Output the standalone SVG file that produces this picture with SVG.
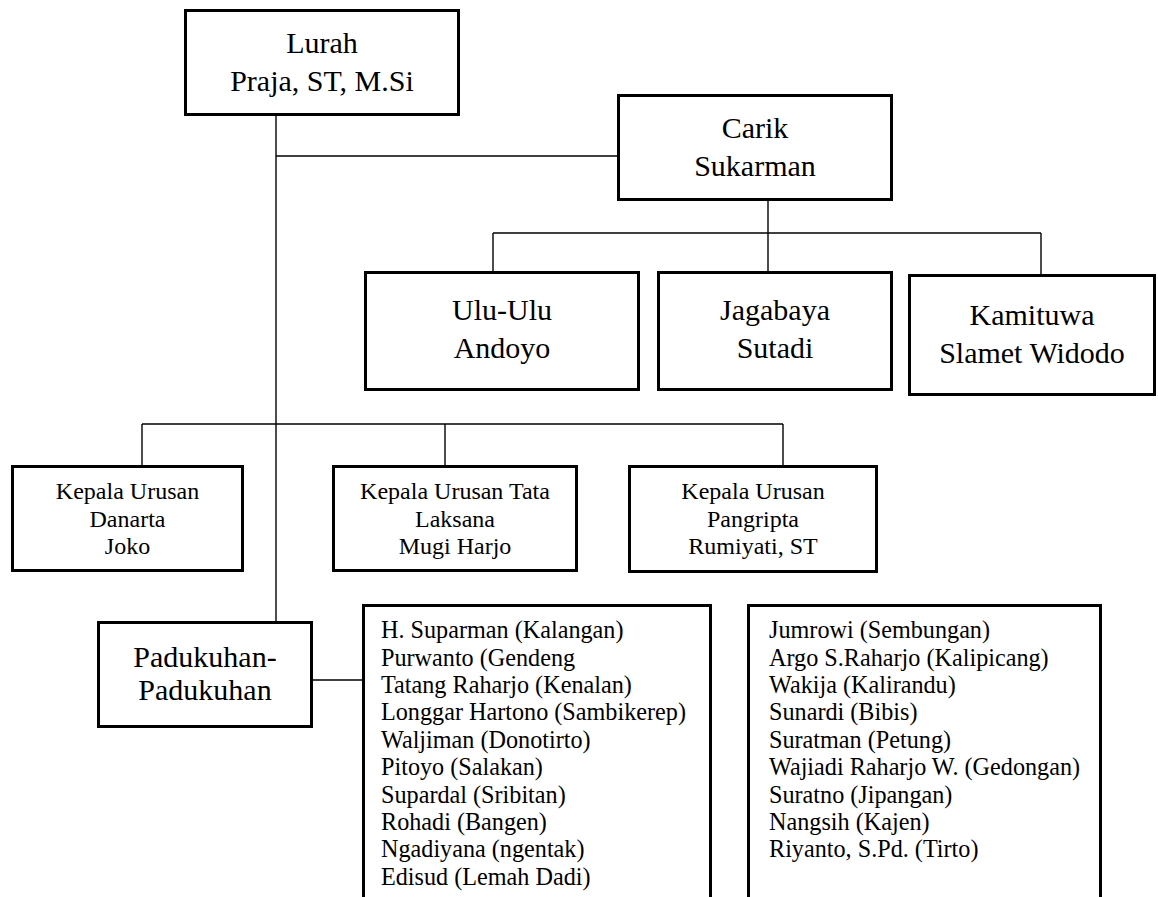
<svg xmlns="http://www.w3.org/2000/svg" width="1158" height="897" viewBox="0 0 1158 897">
<style>
.box{fill:#fff;stroke:#000;stroke-width:3}
.ln{fill:none;stroke:#000;stroke-width:1.4}
.big{font-size:30px;text-anchor:middle}
.mid{font-size:24px;text-anchor:middle}
.lst{font-size:24.2px}
</style>
<rect width="1158" height="897" fill="#fff"/>
<g id="connectors">
<path class="ln" d="M276 116V621"/>
<path class="ln" d="M276 156H617"/>
<path class="ln" d="M768 201V233"/>
<path class="ln" d="M493 233H1041"/>
<path class="ln" d="M493 233V271"/>
<path class="ln" d="M768 233V271"/>
<path class="ln" d="M1041 233V274"/>
<path class="ln" d="M142 424H783"/>
<path class="ln" d="M142 424V465"/>
<path class="ln" d="M445 424V465"/>
<path class="ln" d="M783 424V465"/>
<path class="ln" d="M313 680H362"/>
</g>
<g font-family="'Liberation Serif', 'Times New Roman', 'DejaVu Serif', serif" fill="#000">
<g id="lurah">
<rect class="box" x="185.5" y="10.5" width="273" height="104"/>
<text class="big" x="322" y="53">Lurah</text>
<text class="big" x="322" y="91">Praja, ST, M.Si</text>
</g>
<g id="carik">
<rect class="box" x="618.5" y="95.5" width="273" height="104"/>
<text class="big" x="755" y="138">Carik</text>
<text class="big" x="755" y="176">Sukarman</text>
</g>
<g id="uluulu">
<rect class="box" x="365.5" y="272.5" width="273" height="117"/>
<text class="big" x="502" y="320">Ulu-Ulu</text>
<text class="big" x="502" y="358">Andoyo</text>
</g>
<g id="jagabaya">
<rect class="box" x="658.5" y="272.5" width="233" height="117"/>
<text class="big" x="775" y="320">Jagabaya</text>
<text class="big" x="775" y="358">Sutadi</text>
</g>
<g id="kamituwa">
<rect class="box" x="909.5" y="275.5" width="245" height="119"/>
<text class="big" x="1032" y="325">Kamituwa</text>
<text class="big" x="1032" y="363">Slamet Widodo</text>
</g>
<g id="kaur-danarta">
<rect class="box" x="12.5" y="466.5" width="230" height="104"/>
<text class="mid" x="127.5" y="499">Kepala Urusan</text>
<text class="mid" x="127.5" y="527">Danarta</text>
<text class="mid" x="127.5" y="554">Joko</text>
</g>
<g id="kaur-tatalaksana">
<rect class="box" x="333.5" y="466.5" width="243" height="104"/>
<text class="mid" x="455" y="499">Kepala Urusan Tata</text>
<text class="mid" x="455" y="527">Laksana</text>
<text class="mid" x="455" y="554">Mugi Harjo</text>
</g>
<g id="kaur-pangripta">
<rect class="box" x="629.5" y="466.5" width="247" height="105"/>
<text class="mid" x="753" y="499">Kepala Urusan</text>
<text class="mid" x="753" y="527">Pangripta</text>
<text class="mid" x="753" y="554">Rumiyati, ST</text>
</g>
<g id="padukuhan">
<rect class="box" x="98.5" y="622.5" width="213" height="104"/>
<text class="big" x="205" y="667">Padukuhan-</text>
<text class="big" x="205" y="700">Padukuhan</text>
</g>
<g id="list1">
<rect class="box" x="363.5" y="605.5" width="347" height="320"/>
<text class="lst" x="381" y="638">H. Suparman (Kalangan)</text>
<text class="lst" x="381" y="665.5">Purwanto (Gendeng</text>
<text class="lst" x="381" y="693">Tatang Raharjo (Kenalan)</text>
<text class="lst" x="381" y="720.4">Longgar Hartono (Sambikerep)</text>
<text class="lst" x="381" y="747.8">Waljiman (Donotirto)</text>
<text class="lst" x="381" y="775.2">Pitoyo (Salakan)</text>
<text class="lst" x="381" y="802.6">Supardal (Sribitan)</text>
<text class="lst" x="381" y="830">Rohadi (Bangen)</text>
<text class="lst" x="381" y="857.4">Ngadiyana (ngentak)</text>
<text class="lst" x="381" y="884.8">Edisud (Lemah Dadi)</text>
</g>
<g id="list2">
<rect class="box" x="748.5" y="605.5" width="352" height="320"/>
<text class="lst" x="769" y="638">Jumrowi (Sembungan)</text>
<text class="lst" x="769" y="665.5">Argo S.Raharjo (Kalipicang)</text>
<text class="lst" x="769" y="693">Wakija (Kalirandu)</text>
<text class="lst" x="769" y="720.4">Sunardi (Bibis)</text>
<text class="lst" x="769" y="747.8">Suratman (Petung)</text>
<text class="lst" x="769" y="775.2">Wajiadi Raharjo W. (Gedongan)</text>
<text class="lst" x="769" y="802.6">Suratno (Jipangan)</text>
<text class="lst" x="769" y="830">Nangsih (Kajen)</text>
<text class="lst" x="769" y="857.4">Riyanto, S.Pd. (Tirto)</text>
</g>
</g>
</svg>
